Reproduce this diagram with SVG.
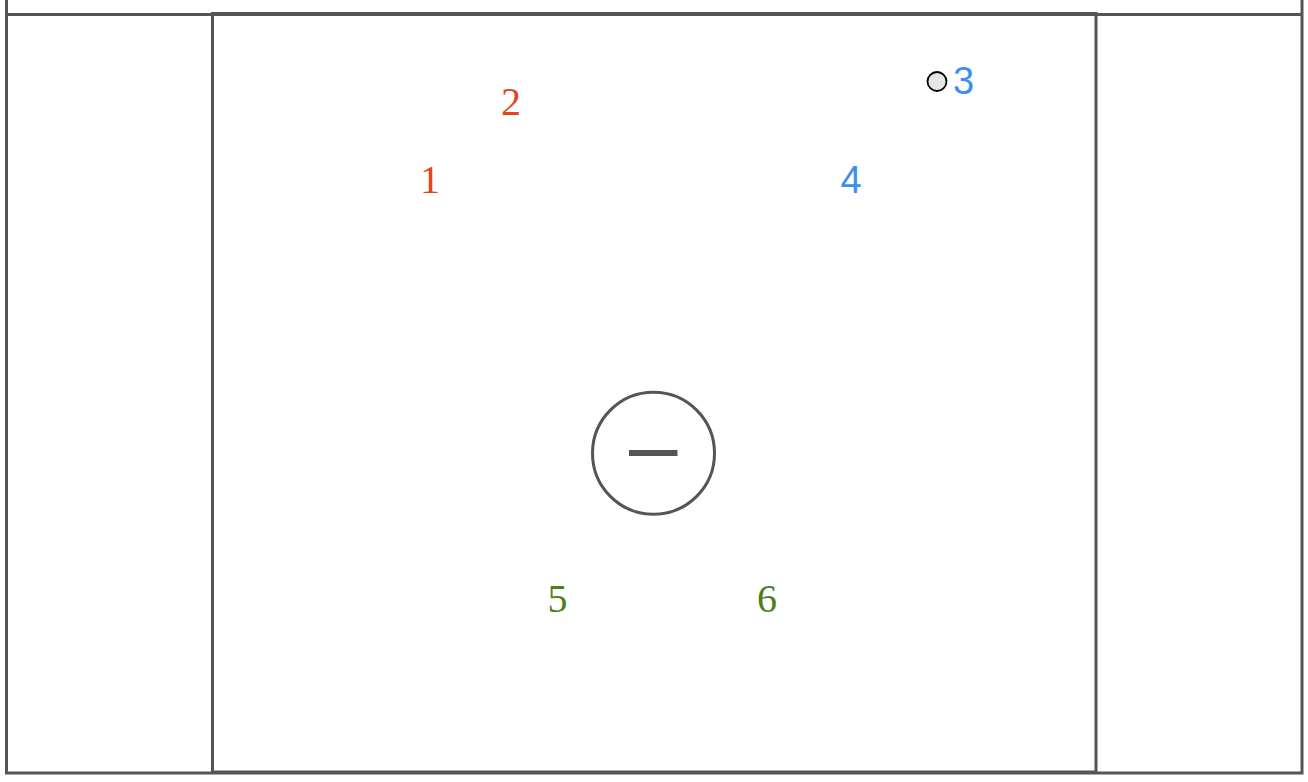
<svg xmlns="http://www.w3.org/2000/svg" width="1308" height="782" viewBox="0 0 1308 782">
<style>
.ln{fill:none;stroke:#555;stroke-width:3}
.serif{font-family:"Liberation Serif","Times New Roman",serif;font-size:40px;text-anchor:middle}
.sans{font-family:"Liberation Sans",Arial,sans-serif;font-size:38px;text-anchor:middle}
.red{fill:#e8411e}
.blue{fill:#3d8ef0}
.green{fill:#4d7f17}
</style>
<rect width="1308" height="782" fill="#fff"/>
<g id="field">
<rect class="ln" x="6.5" y="-10" width="1295.5" height="783" stroke-width="3.5"/>
<line class="ln" x1="6.5" y1="14.5" x2="1302" y2="14.5"/>
<rect class="ln" x="212.5" y="13.5" width="883.5" height="758.5"/>
</g>
<g id="goal">
<circle class="ln" cx="653.5" cy="453.3" r="61"/>
<rect x="629" y="450" width="48.5" height="6" fill="#555"/>
</g>
<g id="ball">
<circle cx="937" cy="81.5" r="9.5" fill="#e6e6e6" stroke="#000" stroke-width="1.8"/>
</g>
<g id="player1"><text class="serif red" x="430" y="193">1</text></g>
<g id="player2"><text class="serif red" x="511" y="115">2</text></g>
<g id="player3"><text class="sans blue" x="963.5" y="94">3</text></g>
<g id="player4"><text class="sans blue" x="851" y="193">4</text></g>
<g id="player5"><text class="serif green" x="557.5" y="612">5</text></g>
<g id="player6"><text class="serif green" x="767" y="612">6</text></g>
</svg>
